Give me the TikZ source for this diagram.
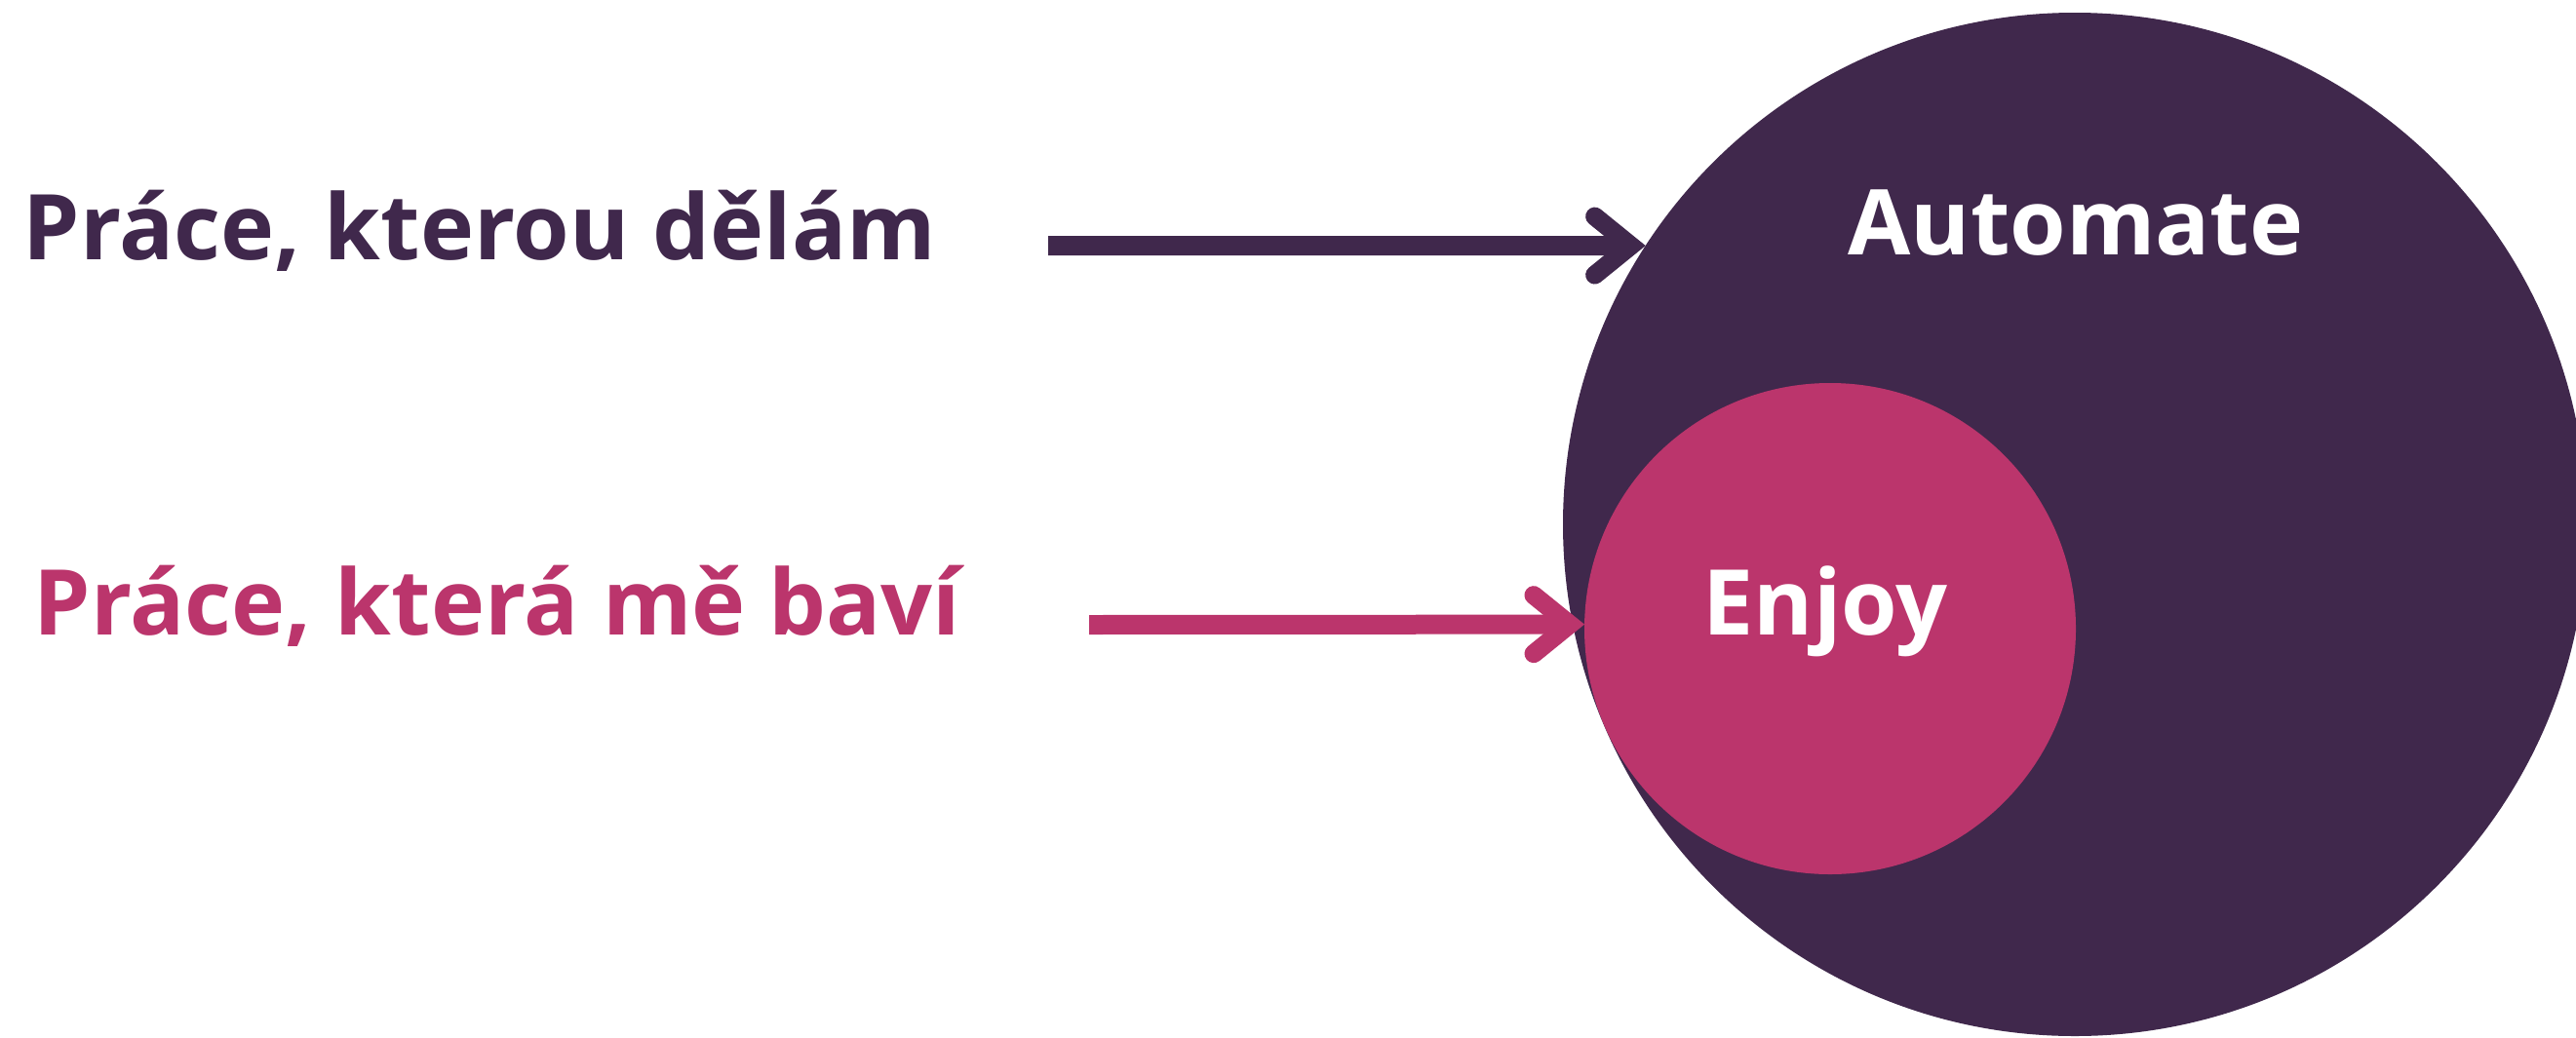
\documentclass[tikz,border=0pt]{standalone}
\usepackage{fontspec}
\setmainfont{Open Sans}
\usetikzlibrary{arrows.meta}
\definecolor{plum}{HTML}{40284C}
\definecolor{rose}{HTML}{BB356C}

\begin{document}
\begin{tikzpicture}[x=1.0cm,y=1.0cm,
    blob/.style={circle,inner sep=0pt,outer sep=0pt},
    txt/.style={inner sep=0pt,font=\fontsize{26.5}{30}\selectfont\bfseries},
    arr/.style={line width=0.2cm,-{Straight Barb[length=0.37cm,width=0.6cm,line width=0.19cm,line cap=round]}}]
    \useasboundingbox (0,0) rectangle (26.42,10.64);
    \clip (0,0) rectangle (26.42,10.64);
    % circles
    \node[blob,fill=plum,minimum size=10.5cm] (automate) at (21.28,5.26) {};
    \node[blob,fill=rose,minimum size=5.04cm] (enjoy) at (18.77,4.19) {};
    \node[txt,white,anchor=base] (automatelbl) at (21.29,8.03) {Automate};
    \node[txt,white,anchor=base] (enjoylbl) at (18.72,4.13) {Enjoy};
    % left texts
    \node[txt,plum,anchor=base west] (work) at (0.23,7.98) {Práce, kterou dělám};
    \node[txt,rose,anchor=base west] (fun) at (0.34,4.13) {Práce, která mě baví};
    \coordinate (s1) at (10.75,8.12);
    \coordinate (s2) at (11.17,4.23);
    \draw [arr,plum] (s1) -- (automate.147);
    \draw [arr,rose] (s2) -- (enjoy.179);
\end{tikzpicture}
\end{document}
